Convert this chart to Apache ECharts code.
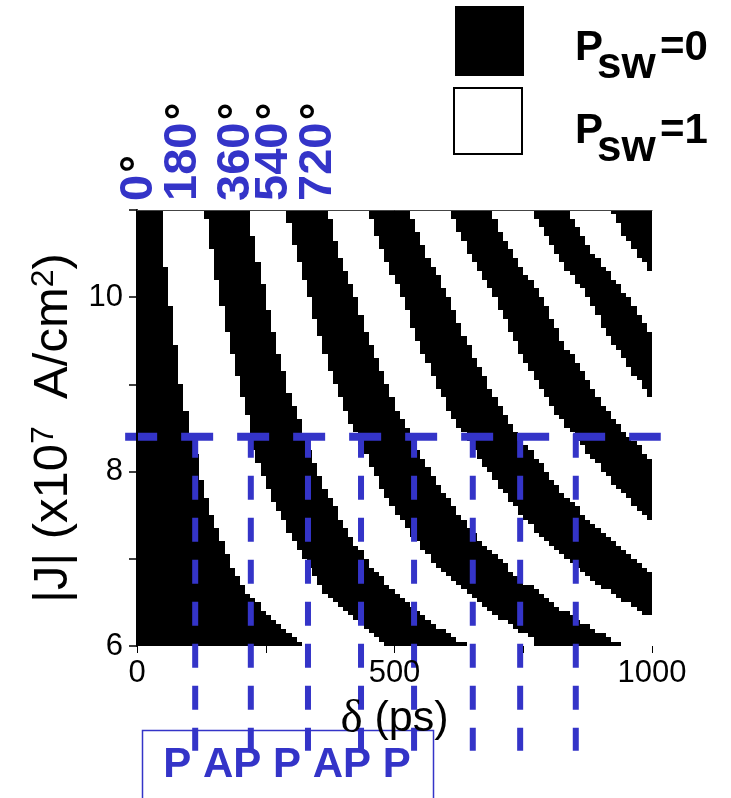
<!DOCTYPE html>
<html>
<head>
<meta charset="utf-8">
<script src="https://cdn.jsdelivr.net/npm/echarts@6/dist/echarts.min.js"></script>
<style>
  html, body { margin: 0; padding: 0; background: #fff; }
  #chart { width: 731px; height: 798px; }
</style>
</head>
<body>
<div id="chart"></div>
<script>
// Switching map P_sw(δ, |J|): δ cells of 10 ps (0..1000), |J| rows of 0.05 (6..11).
const deltaStep = 10;
const deltaMax = 1000;
const rowCount = 100;

// helper: rows below the first entry have that boundary beyond δ = 1000
function fromRow(first, values) { return new Array(first).fill(null).concat(values); }

// Boundary k (left to right): δ/10 index where the colour flips, one entry per |J| row (bottom → top)
const edge1 = [32,31,30,29,28,27,26,25,24,24, 23,22,21,21,20,20,19,19,18,18,
               18,17,17,17,16,16,16,15,15,15, 14,14,14,14,13,13,13,13,12,12,
               12,12,12,12,11,11,11,11,10,10, 10,10,10,10,9,9,9,9,9,9,
               8,8,8,8,8,8,8,8,8,7, 7,7,7,7,7,7,7,7,6,6,
               6,6,6,6,6,6,6,5,5,5, 5,5,5,5,5,5,5,5,5,5];
const edge2 = [48,47,46,45,44,43,42,41,40,39, 38,37,36,36,35,35,34,34,33,33,
               32,32,31,31,30,30,29,29,29,28, 28,27,27,26,26,26,25,25,25,24,
               24,24,23,23,23,22,22,22,22,22, 22,22,22,21,21,21,21,20,20,20,
               20,20,19,19,19,19,19,18,18,18, 18,18,17,17,17,17,17,17,16,16,
               16,16,16,16,15,15,15,15,15,15, 15,14,14,14,14,14,14,14,13,13];
const edge3 = [64,62,61,60,58,57,56,55,54,53, 52,51,50,49,48,48,47,46,45,45,
               44,44,43,42,42,41,41,40,40,39, 39,39,38,38,37,37,36,36,36,35,
               35,35,34,34,34,33,33,33,32,32, 32,32,31,31,31,30,30,30,29,29,
               29,29,29,28,28,28,28,27,27,27, 27,27,26,26,26,26,26,25,25,25,
               25,25,25,24,24,24,24,24,23,23, 23,23,23,23,22,22,22,22,22,22];
const edge4 = [77,77,76,74,73,72,70,69,68,67, 66,65,64,63,62,61,60,59,58,57,
               57,56,55,55,54,53,53,52,52,51, 50,50,49,49,48,48,47,47,47,46,
               46,45,45,45,44,44,43,43,43,42, 42,41,41,41,40,40,40,39,39,39,
               38,38,38,37,37,37,37,36,36,36, 36,35,35,35,35,34,34,34,34,34,
               33,33,33,33,32,32,32,32,31,31, 31,31,30,30,30,30,30,29,29,29];
const edge5 = [94,92,91,89,88,86,85,84,82,81, 80,79,78,77,75,74,73,72,72,71,
               70,69,68,67,66,66,65,64,64,63, 62,62,61,61,60,59,59,58,58,57,
               57,56,56,55,55,54,54,54,53,53, 52,52,51,51,50,50,50,49,49,49,
               48,48,48,47,47,47,46,46,46,45, 45,45,44,44,44,44,43,43,43,43,
               42,42,42,41,41,41,40,40,40,39, 39,39,39,38,38,38,38,38,37,37];
const edge6 = fromRow(7, [98,97,96, 94,93,92,90,89,88,87,86,85,84,
               83,82,81,80,79,78,77,77,76,75, 74,74,73,72,72,71,70,70,69,69,
               68,67,67,66,66,65,65,64,64,63, 62,62,61,61,60,60,60,59,59,58,
               58,58,57,57,57,56,56,55,55,55, 54,54,54,53,53,53,53,52,52,52,
               51,51,51,50,50,49,49,49,48,48, 48,47,47,47,46,46,46,46,45,45]);
const edge7 = fromRow(17, [99,98,97,
               96,95,94,93,92,91,90,89,88,87, 86,86,85,84,83,82,82,81,80,80,
               79,79,78,77,77,76,75,75,74,73, 73,72,72,71,71,70,70,69,69,68,
               68,68,67,67,66,66,65,65,65,64, 64,63,63,63,62,62,62,61,61,61,
               60,60,59,59,59,58,58,57,57,56, 56,56,55,55,55,54,54,54,53,53]);
const edge8 = fromRow(29, [99,
               98,97,96,96,95,94,93,92,92,91, 90,90,89,88,87,87,86,85,85,84,
               83,83,82,81,81,80,80,79,79,78, 78,77,77,76,76,75,75,74,74,74,
               73,73,72,72,72,71,71,70,70,70, 69,69,68,68,67,67,66,66,65,65,
               64,64,64,63,63,62,62,62,61,61]);
const edge9 = fromRow(43, [99,98,98,97,96,95,94,
               94,93,92,92,91,90,90,89,89,88, 88,87,87,86,86,85,85,84,83,83,
               82,82,82,81,81,80,80,80,79,79, 78,78,77,77,76,75,75,74,74,73,
               73,72,72,71,71,70,70,70,69,69]);
const edge10 = fromRow(57, [99,99,98,
               98,97,96,96,95,95,94,94,93,92, 92,91,91,90,90,90,89,89,88,88,
               87,87,86,85,85,84,83,83,82,82, 81,81,80,80,79,79,78,78,77,77]);
const edge11 = fromRow(72, [99,99,98,98,97,97,96,96,
               95,94,94,93,92,92,91,90,90,89, 88,88,87,87,86,86,85,85,84,84]);
const edge12 = fromRow(86, [99,99,98,97,
               97,96,96,95,94,94,94,93,93,92]);
const edges = [edge1, edge2, edge3, edge4, edge5, edge6, edge7, edge8, edge9, edge10, edge11, edge12];

// Dashed guides: |J| level and the δ values where it crosses the boundaries
const guideJ = 8.4;
const guideDelta = [113, 221, 332, 435, 538, 652, 744, 852];
const guideSpan = [-23, 1017];
const guideEndJ = 4.8;

// Phase labels above the map and the state sequence below it
const phaseLabels = ['0', '180', '360', '540', '720'];
const stateText = 'P AP P AP P';

// Row runs of equal P_sw (0 = black, 1 = white)
const runs = [];
for (let m = 0; m < rowCount; m++) {
  const j0 = (600 + 5 * m) / 100, j1 = (605 + 5 * m) / 100;
  const cuts = edges.map(e => e[m]).filter(v => v != null);
  let start = 0, state = 0;
  for (const c of cuts) {
    if (c > start) runs.push([start * deltaStep, c * deltaStep, j0, j1, state]);
    start = c; state = 1 - state;
  }
  if (start * deltaStep < deltaMax) runs.push([start * deltaStep, deltaMax, j0, j1, state]);
}

const BLUE = '#3434c8';
const SANS = '"Liberation Sans", Arial, sans-serif';
const chart = echarts.init(document.getElementById('chart'), null, { renderer: 'canvas' });

const phaseX = [139, 183.5, 236.5, 274.5, 318.5];
const graphics = [
  { type: 'rect', shape: { x: 455, y: 6, width: 69, height: 70 }, style: { fill: '#000' } },
  { type: 'rect', shape: { x: 454, y: 88, width: 68, height: 66 }, style: { fill: '#fff', stroke: '#000', lineWidth: 2 } },
  { type: 'text', x: 575, y: 48, style: { text: 'P', font: 'bold 42px ' + SANS, fill: '#000', align: 'left', verticalAlign: 'middle' } },
  { type: 'text', x: 597, y: 66, style: { text: 'sw', font: 'bold 44px ' + SANS, fill: '#000', align: 'left', verticalAlign: 'middle' } },
  { type: 'text', x: 660, y: 48, style: { text: '=0', font: 'bold 42px ' + SANS, fill: '#000', align: 'left', verticalAlign: 'middle' } },
  { type: 'text', x: 575, y: 131, style: { text: 'P', font: 'bold 42px ' + SANS, fill: '#000', align: 'left', verticalAlign: 'middle' } },
  { type: 'text', x: 597, y: 149, style: { text: 'sw', font: 'bold 44px ' + SANS, fill: '#000', align: 'left', verticalAlign: 'middle' } },
  { type: 'text', x: 660, y: 131, style: { text: '=1', font: 'bold 42px ' + SANS, fill: '#000', align: 'left', verticalAlign: 'middle' } },
  { type: 'rect', shape: { x: 142.5, y: 730.5, width: 291, height: 90 }, style: { fill: 'none', stroke: BLUE, lineWidth: 1.5 } },
  { type: 'text', x: 287, y: 765, z: 100, style: { text: stateText, font: 'bold 42px ' + SANS, fill: BLUE, align: 'center', verticalAlign: 'middle' } }
];
phaseLabels.forEach((t, i) => {
  graphics.push({
    type: 'text', x: phaseX[i], y: 201, rotation: Math.PI / 2,
    style: {
      text: '{n|' + t + '}{g| }{d|°}', align: 'left', verticalAlign: 'middle',
      rich: {
        n: { fontSize: 47, fontWeight: 'bold', fontFamily: SANS, fill: BLUE },
        g: { fontSize: 8, fontFamily: SANS, fill: BLUE },
        d: { fontSize: 44, fontWeight: 'bold', fontFamily: SANS, fill: '#000' }
      }
    }
  });
});

chart.setOption({
  animation: false,
  backgroundColor: '#fff',
  grid: { left: 137, top: 210, width: 515, height: 436 },
  xAxis: [
    {
      type: 'value', position: 'bottom', min: 0, max: deltaMax, interval: 250, z: 10,
      axisLine: { show: false },
      axisTick: { show: true, length: 7, lineStyle: { color: '#000', width: 1 } },
      axisLabel: { formatter: v => (v % 500 === 0 ? String(v) : ''), fontSize: 31, fontFamily: SANS, color: '#000', margin: 12 },
      splitLine: { show: false },
      name: '{d|δ} (ps)', nameLocation: 'middle', nameGap: 50,
      nameTextStyle: {
        fontSize: 43, fontFamily: SANS, color: '#000',
        rich: { d: { fontSize: 47, fontFamily: '"Liberation Serif", "Times New Roman", serif', color: '#000' } }
      }
    },
    {
      type: 'value', position: 'top', min: 0, max: deltaMax, z: 10,
      axisLine: { show: true, lineStyle: { color: '#444', width: 1 } },
      axisTick: { show: false }, axisLabel: { show: false }, splitLine: { show: false }
    }
  ],
  yAxis: {
    type: 'value', min: 6, max: 11, interval: 1, z: 10,
    axisLine: { show: true, lineStyle: { color: '#000', width: 2 } },
    axisTick: { show: true, length: 8, lineStyle: { color: '#000', width: 1.5 } },
    axisLabel: { formatter: v => (v % 2 === 0 ? String(v) : ''), fontSize: 31, fontFamily: SANS, color: '#000', margin: 14 },
    splitLine: { show: false },
    name: '{m||J| (x10}{s|7}{m|  A/cm}{s|2}{m|)}', nameLocation: 'middle', nameGap: 54, nameRotate: 90,
    nameTextStyle: {
      color: '#000',
      rich: {
        m: { fontSize: 49, fontFamily: SANS, color: '#000', verticalAlign: 'bottom' },
        s: { fontSize: 32, fontFamily: SANS, color: '#000', verticalAlign: 'top' }
      }
    }
  },
  series: [
    {
      name: 'Psw', type: 'custom', xAxisIndex: 0, yAxisIndex: 0, silent: true,
      data: runs,
      renderItem: (params, api) => {
        const a = api.coord([api.value(0), api.value(3)]);
        const b = api.coord([api.value(1), api.value(2)]);
        const l = Math.round(a[0]), t = Math.round(a[1]), r = Math.round(b[0]), btm = Math.round(b[1]);
        return {
          type: 'rect', shape: { x: l, y: t, width: r - l, height: btm - t },
          style: { fill: api.value(4) === 1 ? '#fff' : '#000' }
        };
      }
    },
    {
      name: 'guides', type: 'custom', xAxisIndex: 0, yAxisIndex: 0, silent: true, clip: false, z: 5,
      data: guideDelta.map(d => [d]),
      renderItem: (params, api) => {
        const top = api.coord([api.value(0), guideJ]);
        const bot = api.coord([api.value(0), guideEndJ]);
        return {
          type: 'line', shape: { x1: top[0], y1: top[1] - 3, x2: bot[0], y2: bot[1] },
          style: { stroke: BLUE, lineWidth: 6, lineDash: [24, 18] }
        };
      }
    },
    {
      name: 'level', type: 'custom', xAxisIndex: 0, yAxisIndex: 0, silent: true, clip: false, z: 6,
      data: [[guideSpan[0], guideSpan[1], guideJ]],
      renderItem: (params, api) => {
        const p0 = api.coord([api.value(0), api.value(2)]);
        const p1 = api.coord([api.value(1), api.value(2)]);
        return {
          type: 'line', shape: { x1: p0[0], y1: p0[1], x2: p1[0], y2: p1[1] },
          style: { stroke: BLUE, lineWidth: 8, lineDash: [32, 24] }
        };
      }
    }
  ],
  graphic: graphics
});
</script>
</body>
</html>
